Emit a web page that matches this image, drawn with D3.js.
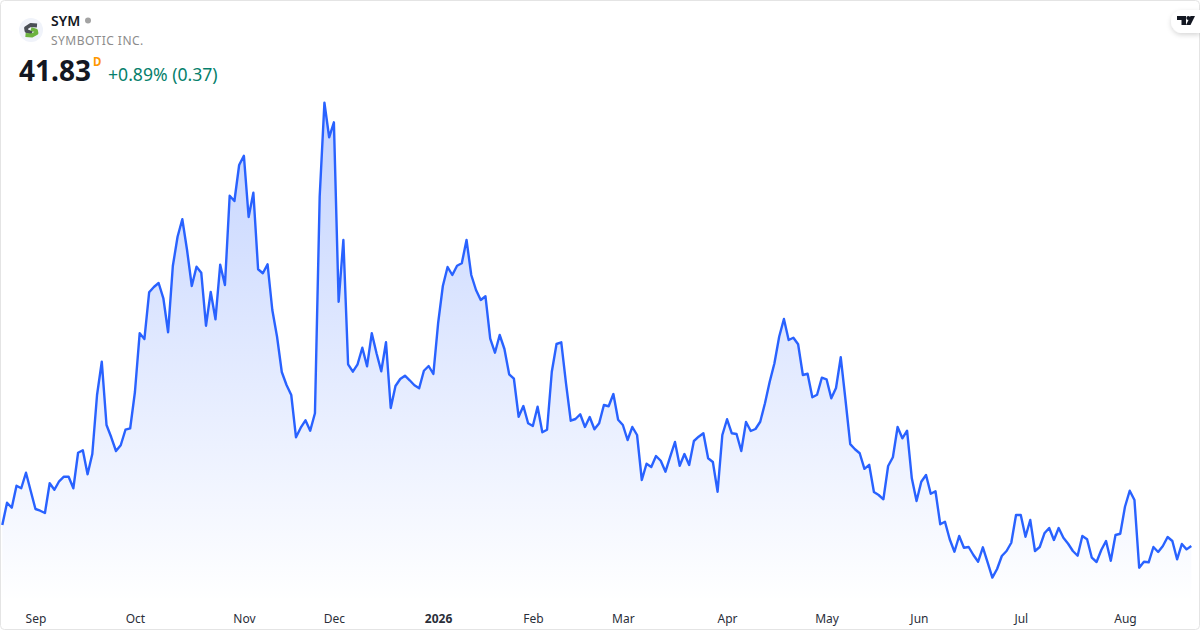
<!DOCTYPE html>
<html>
<head>
<meta charset="utf-8">
<script src="https://d3js.org/d3.v7.min.js"></script>
<style>
  html, body { margin: 0; padding: 0; background: #fff; }
  svg { display: block; font-family: "Noto Sans", sans-serif; }
</style>
</head>
<body>
<div id="chart"></div>
<script>
// Daily closes, one per trading day
var closes = [
  44.14, 46.59, 46.04, 48.46, 48.18, 49.89, 47.88, 45.90, 45.71, 45.46,
  48.73, 48.02, 48.95, 49.45, 49.45, 48.18, 52.09, 52.36, 49.72, 51.95,
  58.44, 62.10, 55.14, 53.79, 52.28, 52.91, 54.62, 54.78, 58.77, 65.23,
  64.60, 69.74, 70.32, 70.76, 69.08, 65.34, 72.63, 75.85, 77.77, 74.39,
  70.43, 72.55, 71.89, 66.06, 69.77, 66.77, 72.77, 70.54, 80.36, 79.78,
  83.74, 84.76, 78.02, 80.69, 72.27, 71.83, 72.82, 67.79, 64.85, 60.97,
  59.54, 58.44, 53.79, 54.84, 55.66, 54.51, 56.43, 80.25, 90.59, 86.79,
  88.44, 68.70, 75.49, 61.82, 61.00, 61.82, 63.64, 61.60, 65.23, 63.03,
  61.05, 64.24, 57.01, 59.43, 60.20, 60.56, 60.06, 59.51, 59.18, 61.11,
  61.63, 60.75, 66.33, 70.43, 72.52, 71.64, 72.66, 72.93, 75.49, 71.64,
  69.99, 68.89, 69.30, 64.63, 63.09, 65.04, 63.50, 60.72, 60.23, 56.05,
  57.23, 55.33, 55.03, 57.15, 54.34, 54.62, 61.00, 64.05, 64.24, 59.73,
  55.61, 55.80, 56.32, 54.92, 56.02, 54.67, 55.33, 57.34, 57.20, 58.55,
  55.72, 55.14, 53.49, 54.92, 54.04, 49.09, 50.88, 50.52, 51.73, 51.21,
  50.00, 51.65, 53.27, 50.66, 51.95, 50.74, 53.38, 53.85, 54.23, 51.48,
  51.07, 47.80, 54.04, 55.77, 54.23, 54.15, 52.28, 55.47, 54.48, 54.70,
  55.50, 57.53, 59.90, 61.93, 64.85, 66.80, 64.49, 64.74, 64.02, 60.64,
  60.78, 58.19, 58.47, 60.34, 60.17, 58.08, 59.21, 62.59, 57.89, 53.03,
  52.47, 52.03, 50.32, 50.76, 47.77, 47.44, 46.97, 50.63, 51.59, 54.92,
  53.68, 54.51, 49.28, 46.78, 48.90, 49.64, 47.58, 47.85, 44.22, 44.50,
  42.57, 41.20, 42.93, 41.64, 41.72, 40.84, 40.10, 41.69, 40.04, 38.35,
  39.30, 40.73, 41.28, 42.19, 45.24, 45.24, 42.85, 44.69, 41.28, 41.72,
  43.23, 43.81, 42.49, 43.81, 42.74, 42.08, 41.28, 40.76, 42.93, 42.57,
  40.54, 40.07, 41.39, 42.38, 40.21, 43.04, 43.18, 46.15, 47.91, 46.89,
  39.44, 40.10, 40.04, 41.72, 41.17, 41.83, 42.82, 42.38, 40.37, 42.05,
  41.46, 41.83
];

// Month labels and the trading day each one sits on
var tickLabels = ["Sep", "Oct", "Nov", "Dec", "2026", "Feb", "Mar", "Apr", "May", "Jun", "Jul", "Aug"];
var tickDays = [7, 28, 51, 70, 92, 112, 131, 153, 174, 193.5, 215, 237];

var symbol = "SYM";
var company = "SYMBOTIC INC.";
var lastPrice = "41.83";
var interval = "D";
var change = "+0.89% (0.37)";

// Set up the chart
var svgWidth = 1200;
var svgHeight = 630;

var svg = d3.select("#chart")
  .append("svg")
  .attr("width", svgWidth)
  .attr("height", svgHeight);

var defs = svg.append("defs");

// Fill under the line fades out towards the time axis
var baseline = 602;
var gradient = defs.append("linearGradient")
  .attr("id", "areaFill")
  .attr("gradientUnits", "userSpaceOnUse")
  .attr("x1", 0).attr("x2", 0)
  .attr("y1", 102).attr("y2", baseline);
gradient.append("stop").attr("offset", 0).attr("stop-color", "#2962ff").attr("stop-opacity", 0.28);
gradient.append("stop").attr("offset", 1).attr("stop-color", "#2962ff").attr("stop-opacity", 0);

var shadow = defs.append("filter").attr("id", "pillShadow")
  .attr("x", "-30%").attr("y", "-30%").attr("width", "160%").attr("height", "170%");
shadow.append("feDropShadow")
  .attr("dx", 0).attr("dy", 2).attr("stdDeviation", 2.5)
  .attr("flood-color", "#000").attr("flood-opacity", 0.16);

// Scales
var xScale = d3.scaleLinear().domain([0, closes.length - 1]).range([2.3, 1191.3]);
var yScale = d3.scaleLinear().domain([32.59, 101.89]).range([630, 0]);

// Area and line
var area = d3.area()
  .x(function(d, i) { return xScale(i); })
  .y0(baseline)
  .y1(function(d) { return yScale(d); });

var line = d3.line()
  .x(function(d, i) { return xScale(i); })
  .y(function(d) { return yScale(d); });

svg.append("path")
  .datum(closes)
  .attr("d", area)
  .attr("fill", "url(#areaFill)");

svg.append("path")
  .datum(closes)
  .attr("d", line)
  .attr("fill", "none")
  .attr("stroke", "#2962ff")
  .attr("stroke-width", 2.4)
  .attr("stroke-linejoin", "round");

// Time axis
var bottomAxis = d3.axisBottom(xScale)
  .tickValues(tickDays)
  .tickSize(0)
  .tickPadding(0)
  .tickFormat(function(d, i) { return tickLabels[i]; });

var xAxis = svg.append("g")
  .attr("transform", "translate(0, 614)")
  .call(bottomAxis);

xAxis.select(".domain").remove();
xAxis.selectAll("text")
  .attr("font-family", '"Noto Sans", sans-serif')
  .attr("font-size", 12)
  .attr("fill", "#2a2e39")
  .attr("font-weight", function(d, i) { return tickLabels[i] === "2026" ? 700 : 400; });

// Frame
svg.append("rect")
  .attr("x", 0.5).attr("y", 0.5)
  .attr("width", svgWidth - 1).attr("height", svgHeight - 1)
  .attr("rx", 4)
  .attr("fill", "none")
  .attr("stroke", "#e4e4e4");

// Header
svg.append("circle")
  .attr("cx", 31).attr("cy", 30).attr("r", 12)
  .attr("fill", "#f0f3fa");

// Company logo, two stacked S strokes
var logo = svg.append("g").attr("fill", "none").attr("stroke-width", 3.8).attr("stroke-linejoin", "round");
logo.append("path").attr("d", "M37 25.5 L30.5 25 L26 28 L26.5 31 L32 33").attr("stroke", "#4a4f56");
logo.append("path").attr("d", "M25.5 35 L32 35.5 L36.5 33 L36 30.5 L31 29").attr("stroke", "#6cb33f");

svg.append("text")
  .attr("x", 51).attr("y", 26)
  .attr("font-size", 14).attr("font-weight", 600)
  .attr("fill", "#131722")
  .text(symbol);

svg.append("circle")
  .attr("cx", 88).attr("cy", 20.5).attr("r", 3)
  .attr("fill", "#a3a3a3");

svg.append("text")
  .attr("x", 51).attr("y", 45)
  .attr("font-size", 12)
  .attr("letter-spacing", 0.48)
  .attr("fill", "#8c8c8c")
  .text(company);

svg.append("text")
  .attr("x", 19).attr("y", 81)
  .attr("font-size", 28).attr("font-weight", 700)
  .attr("fill", "#131722")
  .text(lastPrice);

svg.append("text")
  .attr("x", 93).attr("y", 66)
  .attr("font-size", 11.5).attr("font-weight", 700)
  .attr("fill", "#ff9800")
  .text(interval);

svg.append("text")
  .attr("x", 108).attr("y", 81)
  .attr("font-size", 17.6)
  .attr("fill", "#067f6c")
  .text(change);

// TradingView mark in its white pill at the top right corner
svg.append("path")
  .attr("d", "M1200 10 L1182.5 10 A11.5 11.5 0 0 0 1182.5 33 L1200 33 Z")
  .attr("fill", "#fff")
  .attr("filter", "url(#pillShadow)");

var tvMark = svg.append("g").attr("fill", "#131722");
tvMark.append("path").attr("d", "M1177 16 L1186 16 L1186 25 L1181.5 25 L1181.5 20 L1177 20 Z");
tvMark.append("circle").attr("cx", 1188.3).attr("cy", 18).attr("r", 2);
tvMark.append("path").attr("d", "M1190.5 16 L1195 16 L1190.5 25 L1186 25 Z");
</script>
</body>
</html>
